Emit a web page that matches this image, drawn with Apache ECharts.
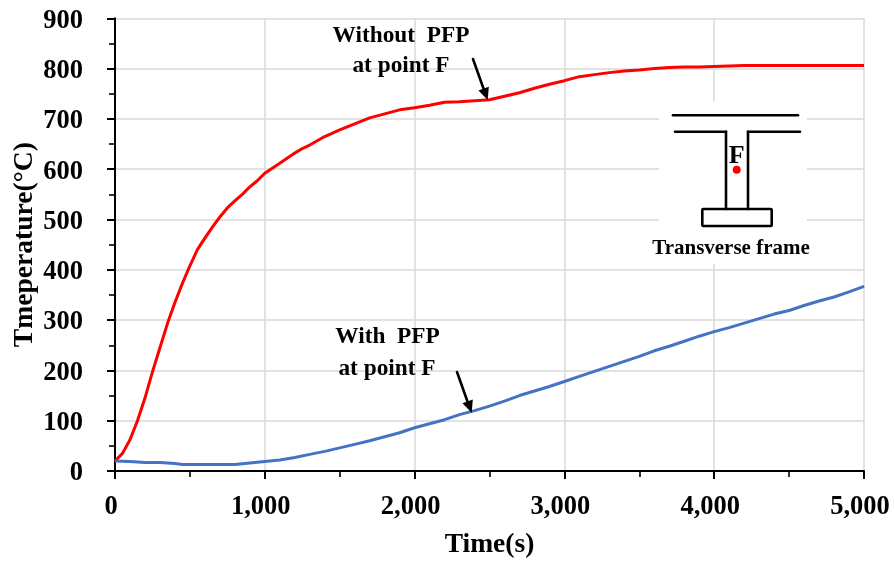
<!DOCTYPE html>
<html><head><meta charset="utf-8">
<style>html,body{margin:0;padding:0;background:#fff}#c{width:894px;height:561px}</style>
<script src="https://cdn.jsdelivr.net/npm/echarts@6/dist/echarts.min.js"></script></head>
<body><div id="c"></div>
<script>
const redTimes=[0,50,100,150,200,250,300,350,400,450,500,550,600,650,700,750,800,850,900,950,1000,1100,1200,1250,1300,1400,1500,1600,1700,1800,1900,2000,2100,2200,2300,2400,2500,2600,2700,2800,2900,3000,3100,3200,3300,3400,3500,3600,3700,3800,3900,4000,4100,4200,4300,4500,5000];
const redTemps=[20,35,62,100,145,197,245,293,335,373,408,440,463,485,505,523,537,550,565,577,592,612,632,641,648,665,678,690,702,710,718,722,727,733,734,736,738,745,752,761,769,776,784,788,792,795,797,800,802,803,803,804,805,806,806,806,806];
const blueTimes=[0,100,200,300,400,450,500,800,900,1000,1100,1200,1300,1400,1500,1600,1700,1800,1900,2000,2100,2200,2300,2400,2500,2600,2700,2800,2900,3000,3100,3200,3300,3400,3500,3600,3700,3800,3900,4000,4100,4200,4300,4400,4500,4600,4700,4800,4900,5000];
const blueTemps=[20,19,17,17,15,13,13,13,16,19,22,27,33,39,46,53,60,68,76,86,94,102,112,120,129,139,150,159,168,178,188,198,208,218,228,239,248,258,268,277,285,294,303,312,319,329,338,346,356,367];
const zip=(a,b)=>a.map((v,i)=>[v,b[i]]);
const serif='"Liberation Serif","Times New Roman",serif';
const chart=echarts.init(document.getElementById('c'),null,{renderer:'canvas'});
const ink='#000';
const txt=(text,x,y,size,extra)=>({type:'text',z:20,style:Object.assign({text,x,y,fill:'#000',font:'bold '+size+'px '+serif,textAlign:'center',textVerticalAlign:'middle'},extra||{})});
const ln=(x1,y1,x2,y2,w)=>({type:'line',z:15,shape:{x1,y1,x2,y2},style:{stroke:ink,lineWidth:w||2.6,lineCap:'round'}});
const head=(x1,y1,x2,y2)=>{const a=Math.atan2(y2-y1,x2-x1),L=12,W=5.5,bx=x2-L*Math.cos(a),by=y2-L*Math.sin(a),nx=-Math.sin(a),ny=Math.cos(a);
 return {type:'polygon',z:15,shape:{points:[[x2,y2],[bx+W*nx,by+W*ny],[bx-W*nx,by-W*ny]]},style:{fill:ink}};};
chart.setOption({
 animation:false,backgroundColor:'#fff',
 grid:{left:115,top:18.3,width:749,height:452.7,containLabel:false,outerBoundsMode:'none'},
 xAxis:{type:'value',min:0,max:5000,interval:1000,
  name:'Time(s)',nameLocation:'middle',nameGap:60,nameMoveOverlap:false,nameTextStyle:{fontFamily:serif,fontWeight:'bold',fontSize:27.5,color:'#000'},
  axisLine:{show:true,onZero:false,lineStyle:{color:'#000',width:2}},
  axisTick:{show:true,length:8,lineStyle:{color:'#000',width:2}},
  minorTick:{show:true,splitNumber:2,length:6,lineStyle:{color:'#000',width:1.6}},
  splitLine:{show:true,lineStyle:{color:'#d9d9d9',width:1.5}},
  axisLabel:{fontFamily:serif,fontWeight:'bold',fontSize:26.5,color:'#000',margin:23,padding:[0,8,0,0],hideOverlap:false,showMinLabel:true,showMaxLabel:true,formatter:v=>v.toLocaleString('en-US')}},
 yAxis:{type:'value',min:0,max:900,interval:100,
  name:'Tmeperature(°C)',nameLocation:'middle',nameGap:76,nameMoveOverlap:false,nameTextStyle:{fontFamily:serif,fontWeight:'bold',fontSize:27.6,color:'#000'},
  axisLine:{show:true,onZero:false,lineStyle:{color:'#000',width:2}},
  axisTick:{show:true,length:8,lineStyle:{color:'#000',width:2}},
  minorTick:{show:true,splitNumber:2,length:6,lineStyle:{color:'#000',width:1.6}},
  splitLine:{show:true,lineStyle:{color:'#d9d9d9',width:1.5}},
  axisLabel:{color:'#000',margin:32,hideOverlap:false,showMinLabel:true,showMaxLabel:true,formatter:v=>'{a|'+v+'}',
   rich:{a:{fontFamily:serif,fontWeight:'bold',fontSize:26.5,color:'#000',padding:[5,0,0,0]}}}},
 series:[
  {type:'line',name:'Without PFP',data:zip(redTimes,redTemps),symbol:'none',lineStyle:{color:'#ff0000',width:3},z:5},
  {type:'line',name:'With PFP',data:zip(blueTimes,blueTemps),symbol:'none',lineStyle:{color:'#4472c4',width:3},z:5}
 ],
 graphic:{elements:[
  {type:'rect',z:10,shape:{x:659,y:101,width:148,height:163},style:{fill:'#fff'}},
  ln(673,115.3,798,115.3),
  ln(675,131.7,726,131.7),ln(748,131.7,800,131.7),
  ln(726,131.7,726,209),ln(748,131.7,748,209),
  {type:'rect',z:15,shape:{x:702.3,y:209,width:69.4,height:17,r:1},style:{fill:'none',stroke:ink,lineWidth:2.6}},
  {type:'circle',z:16,shape:{cx:736.7,cy:169.7,r:4},style:{fill:'#ff0000'}},
  txt('F',736.7,156,26),
  txt('Transverse frame',731,249,21),
  txt('Without  PFP',401,36,23.3),
  txt('at point F',401,66,23.3),
  txt('With  PFP',387.5,337,23.3),
  txt('at point F',387,369,23.3),
  ln(473,59,484,90),head(473,59,487.7,100),
  ln(457,372,468,403),head(457,372,471.7,412.7)
 ]}
});
</script></body></html>
